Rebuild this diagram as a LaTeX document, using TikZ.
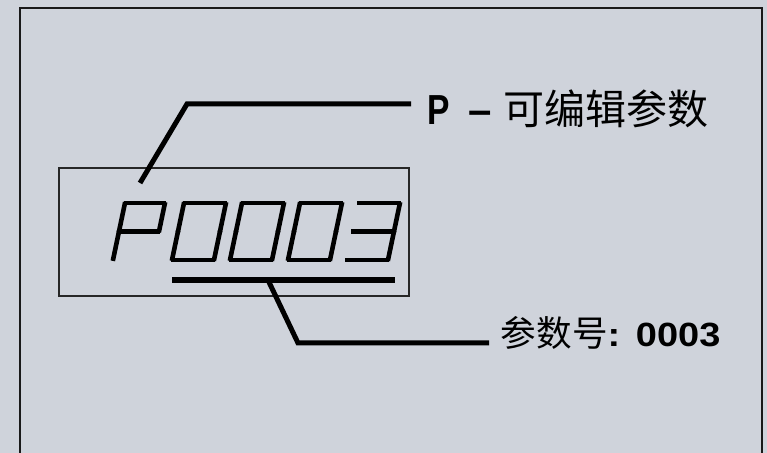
\documentclass[tikz,border=0pt]{standalone}
\usepackage{fontspec}
\setmainfont{Liberation Sans}
\newfontfamily\cjk{Noto Sans CJK SC}
\newfontfamily\narrowlat[FakeStretch=0.8]{Liberation Sans}
\newfontfamily\widelat[FakeStretch=1.13]{Liberation Sans}
\definecolor{panelgray}{RGB}{207,211,219}
\tikzset{
	seg/.style = {line width=2.3pt, line cap=rect, shorten <=.7pt, shorten >=.7pt},
	leader/.style = {line width=2.5pt},
	underbar/.style = {line width=2.75pt},
	frame/.style = {line width=1pt, black!90},
	segP/.pic = {
	 \begin{scope}[xslant=.21]
	 \draw [seg] (0,0) -- (0,-28.5);
	 \draw [seg] (0,-28.5) -- (0,-57);
	 \draw [seg] (0,-57) -- (40,-57);
	 \draw [seg] (40,-57) -- (40,-28.5);
	 \draw [seg] (0,-28.5) -- (40,-28.5);
	 \end{scope}
	 }}
\tikzset{
	segzero/.pic = {
	 \begin{scope}[xslant=.21]
	 \draw [seg] (0,0) -- (42,0);
	 \draw [seg] (42,0) -- (42,-28.5);
	 \draw [seg] (42,-28.5) -- (42,-57);
	 \draw [seg] (42,-57) -- (0,-57);
	 \draw [seg] (0,-57) -- (0,-28.5);
	 \draw [seg] (0,-28.5) -- (0,0);
	 \end{scope}
	 }}
\tikzset{
	segthree/.pic = {
	 \begin{scope}[xslant=.21]
	 \draw [seg] (0,-57) -- (42,-57);
	 \draw [seg] (42,-57) -- (42,-28.5);
	 \draw [seg] (42,-28.5) -- (42,0);
	 \draw [seg] (42,0) -- (0,0);
	 \draw [seg] (0,-28.5) -- (42,-28.5);
	 \end{scope}
	 }}
\begin{document}
\begin{tikzpicture}[x=.5pt, y=-.5pt]

% PANEL
\fill [panelgray] (0,0) rectangle (767,453);
\useasboundingbox (0,0) rectangle (767,453);
\draw [frame] (20,453) -- (20,8.3) -- (762,8.3) -- (762,453);

% NODES

% display
\node (display) [draw, line width=.65pt, black!85, minimum width=175pt, minimum height=64pt, inner sep=0pt] at (234,232) {};
\pic (dP) at (113,260) {segP};
\pic (dzeroa) at (172,260) {segzero};
\pic (dzerob) at (230,260) {segzero};
\pic (dzeroc) at (288,260) {segzero};
\pic (dthree) at (346,260) {segthree};
\coordinate (ulleft) at (172,280);
\coordinate (ulright) at (395,280);
\coordinate (ulmid) at (268,280);
\coordinate (ptip) at (140,183);
\coordinate (pbend) at (187,104);
\coordinate (nbend) at (298,343);

% labels
\node (editlabel) [anchor=base west, inner xsep=8pt, inner ysep=0pt, font=\fontsize{21pt}{25pt}\selectfont] at (411,125)
	{{\narrowlat\bfseries P}\hspace{9.3pt}{\bfseries –}\hspace{5.8pt}{\cjk\fontsize{20.5pt}{25pt}\selectfont 可编辑参数}};
\node (numlabel) [anchor=base west, inner xsep=5.75pt, inner ysep=0pt, font=\fontsize{16.8pt}{20pt}\selectfont] at (489,347)
	{{\cjk\fontsize{17.8pt}{20pt}\selectfont 参数号}{\widelat\bfseries :\hspace{.8pt} 0003}};

%CONNECTIONS
\draw [underbar] (ulleft) -- (ulright);
\draw [leader] (ptip) -- (pbend) -- (pbend -| editlabel.west);
\draw [leader] (ulmid) -- (nbend) -- (nbend -| numlabel.west);

\end{tikzpicture}
\end{document}
